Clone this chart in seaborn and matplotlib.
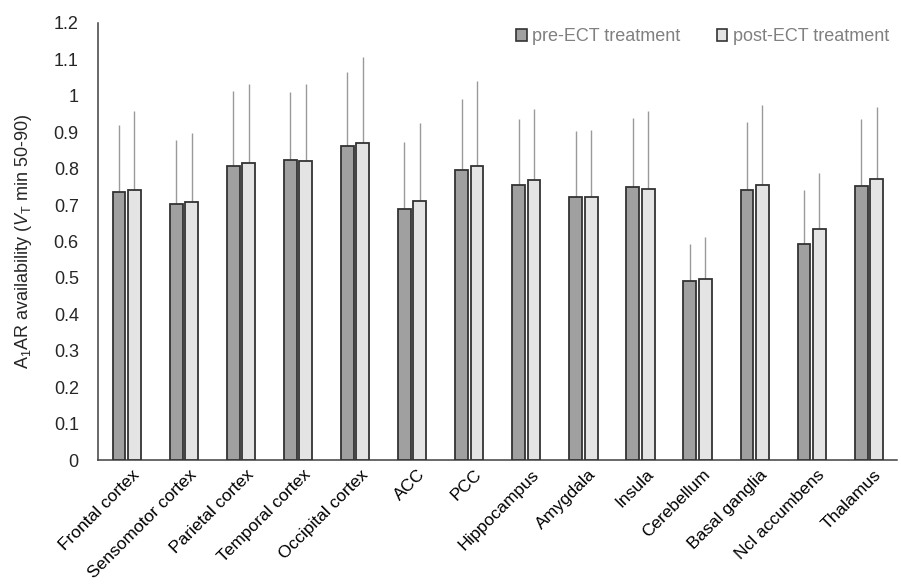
import matplotlib
matplotlib.use("Agg")
import matplotlib.pyplot as plt
import matplotlib.transforms as mtransforms
import seaborn as sns
import pandas as pd
from matplotlib.patches import Patch

regions = ["Frontal cortex", "Sensomotor cortex", "Parietal cortex", "Temporal cortex",
           "Occipital cortex", "ACC", "PCC", "Hippocampus", "Amygdala", "Insula",
           "Cerebellum", "Basal ganglia", "Ncl accumbens", "Thalamus"]
pre_mean = [0.736, 0.702, 0.806, 0.824, 0.862, 0.688, 0.795, 0.754, 0.723, 0.750,
            0.491, 0.740, 0.593, 0.752]
post_mean = [0.742, 0.708, 0.814, 0.820, 0.871, 0.711, 0.808, 0.769, 0.723, 0.745,
             0.497, 0.754, 0.633, 0.771]
pre_err_top = [0.919, 0.879, 1.012, 1.010, 1.065, 0.873, 0.991, 0.936, 0.903, 0.940,
               0.592, 0.927, 0.740, 0.936]
post_err_top = [0.957, 0.897, 1.032, 1.032, 1.106, 0.924, 1.041, 0.963, 0.906, 0.958,
                0.612, 0.975, 0.788, 0.970]
groups = ["pre-ECT treatment", "post-ECT treatment"]
y_ticks = [0, 0.1, 0.2, 0.3, 0.4, 0.5, 0.6, 0.7, 0.8, 0.9, 1.0, 1.1, 1.2]
y_tick_labels = ["0", "0.1", "0.2", "0.3", "0.4", "0.5", "0.6", "0.7", "0.8", "0.9",
                 "1", "1.1", "1.2"]

sns.set_theme(style="white")
plt.rcParams["font.family"] = ["Liberation Sans", "DejaVu Sans"]
plt.rcParams["mathtext.fontset"] = "custom"
plt.rcParams["mathtext.rm"] = "Liberation Sans"
plt.rcParams["mathtext.it"] = "Liberation Sans:italic"

df = pd.DataFrame({
    "region": regions * 2,
    "value": pre_mean + post_mean,
    "group": [groups[0]] * len(regions) + [groups[1]] * len(regions),
})

fig = plt.figure(figsize=(9.01, 5.86), dpi=100)
ax = fig.add_axes([0.109, 0.215, 0.887, 0.746])

colors = ["#a0a0a0", "#e4e4e4"]
sns.barplot(data=df, x="region", y="value", hue="group", palette=colors,
            width=0.54, gap=0.17, edgecolor="#333333", linewidth=1.3,
            errorbar=None, legend=False, ax=ax, zorder=3)

for cont, tops in zip(ax.containers, [pre_err_top, post_err_top]):
    for patch, top in zip(cont.patches, tops):
        xc = patch.get_x() + patch.get_width() / 2
        ax.vlines(xc, patch.get_height(), top, color="#9a9a9a", linewidth=1.0, zorder=2)

ax.set_ylim(0, 1.2)
ax.set_xlim(-0.5, len(regions) - 0.5)
ax.set_yticks(y_ticks)
ax.set_yticklabels(y_tick_labels, fontsize=13, color="#262626")
ax.tick_params(axis="y", length=0, pad=14)
ax.tick_params(axis="x", length=0, pad=5)
ax.set_xticks(range(len(regions)))
ax.set_xticklabels(regions, rotation=45, ha="right", rotation_mode="anchor",
                   fontsize=12.5, color="#000000")
offset = mtransforms.ScaledTranslation(5 / 100, 0, fig.dpi_scale_trans)
for lbl in ax.get_xticklabels():
    lbl.set_transform(lbl.get_transform() + offset)
ax.set_xlabel("")
ax.set_ylabel(r"A$_\mathregular{1}$AR availability ($\mathit{V}_\mathregular{T}$ min 50-90)",
              fontsize=13, color="#262626", labelpad=14)

for s in ["top", "right"]:
    ax.spines[s].set_visible(False)
for s in ["left", "bottom"]:
    ax.spines[s].set_color("#404040")
    ax.spines[s].set_linewidth(1.1)

handles = [Patch(facecolor=c, edgecolor="#333333", linewidth=1.2) for c in colors]
ax.legend(handles, groups, loc="upper right", ncol=2, frameon=False,
          fontsize=13, labelcolor="#808080", handlelength=0.6, handleheight=0.6,
          handletextpad=0.3, columnspacing=2.0, bbox_to_anchor=(1.01, 1.025))

fig.savefig("out.png", dpi=100)
